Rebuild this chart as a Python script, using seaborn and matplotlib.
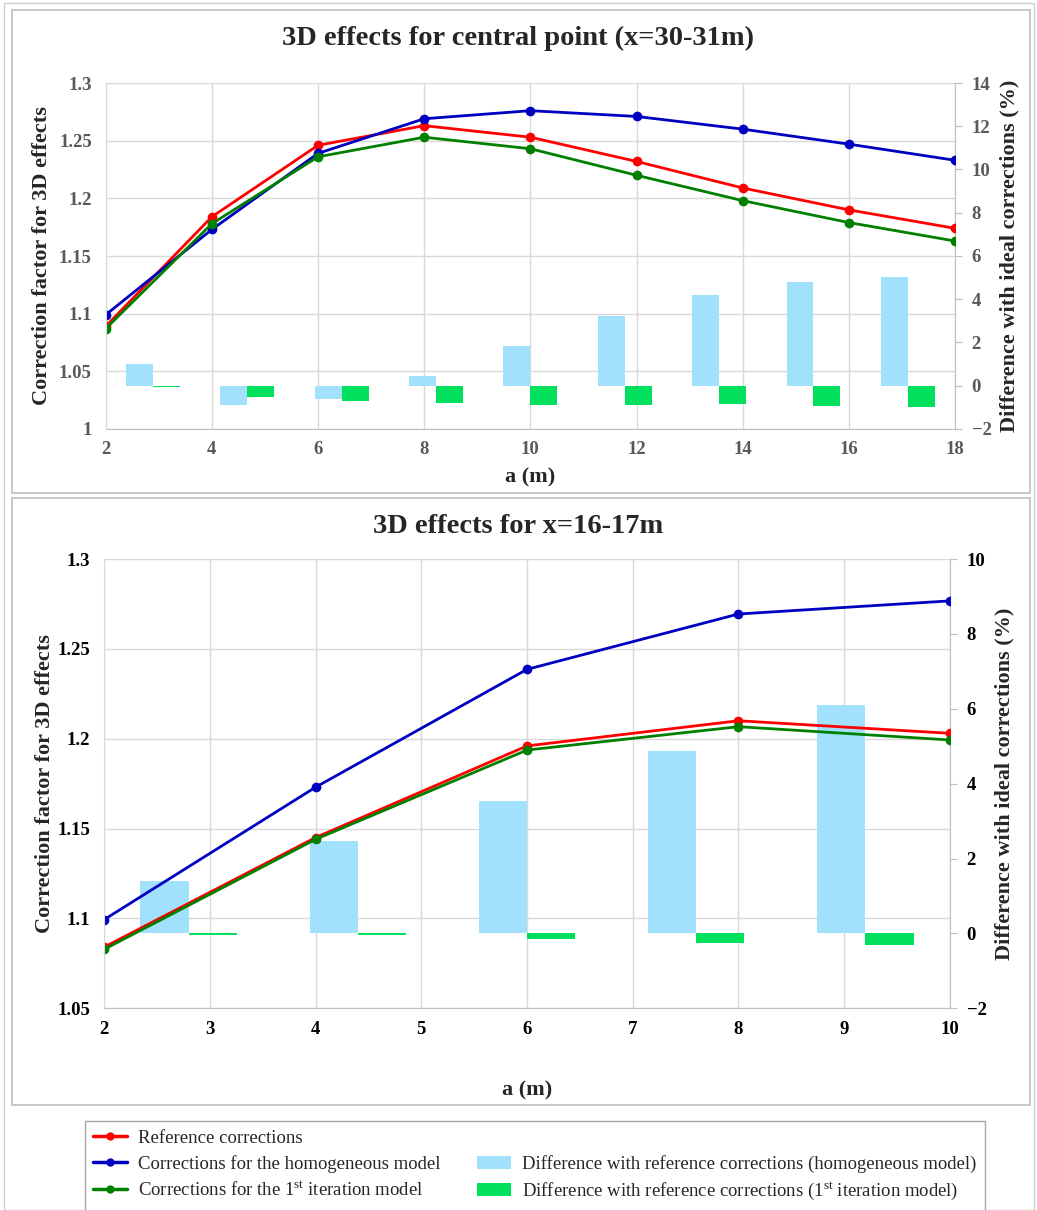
import numpy as np
import pandas as pd
import seaborn as sns
import matplotlib
import matplotlib.pyplot as plt
from matplotlib.lines import Line2D
from matplotlib.patches import Patch, Rectangle
from matplotlib.ticker import FuncFormatter


#%%
# Values

# Top panel: central point (x=30-31m)
a_top = [2, 4, 6, 8, 10, 12, 14, 16, 18]
ref_top = [1.089, 1.184, 1.246, 1.263, 1.253, 1.232, 1.209, 1.190, 1.174]
homog_top = [1.099, 1.173, 1.239, 1.269, 1.276, 1.271, 1.260, 1.247, 1.233]
iter1_top = [1.087, 1.178, 1.236, 1.253, 1.243, 1.220, 1.198, 1.179, 1.163]
diff_homog_top = [1.02, -0.91, -0.59, 0.46, 1.82, 3.24, 4.20, 4.78, 5.01]
diff_iter1_top = [-0.05, -0.52, -0.70, -0.80, -0.88, -0.88, -0.86, -0.93, -0.96]

# Bottom panel: x=16-17m
a_bot = [2, 4, 6, 8, 10]
ref_bot = [1.084, 1.145, 1.196, 1.210, 1.203]
homog_bot = [1.0993, 1.173, 1.2386, 1.2694, 1.2767]
iter1_bot = [1.0828, 1.144, 1.1937, 1.2067, 1.1993]
diff_homog_bot = [1.41, 2.46, 3.53, 4.88, 6.11]
diff_iter1_bot = [-0.05, -0.05, -0.16, -0.26, -0.31]

line_names = ["Reference corrections",
              "Corrections for the homogeneous model",
              r"Corrections for the 1$^{\mathrm{st}}$ iteration model"]
bar_names = ["Difference with reference corrections (homogeneous model)",
             r"Difference with reference corrections (1$^{\mathrm{st}}$ iteration model)"]

line_colors = ["#FF0000", "#0000C0", "#008000"]
bar_colors = ["#A2E1FB", "#00E05C"]
grid_color = "#D9D9D9"


#%%
sns.set_style("white")
plt.rcParams["font.family"] = ["Liberation Serif", "DejaVu Serif"]
plt.rcParams["mathtext.fontset"] = "custom"
plt.rcParams["mathtext.rm"] = "Liberation Serif"
plt.rcParams["mathtext.it"] = "Liberation Serif:italic"
plt.rcParams["mathtext.bf"] = "Liberation Serif:bold"

fig = plt.figure(figsize=(10.37, 12.10), dpi=100)
W, H = 1037, 1210


def px_rect(x0, y0, x1, y1):
    return [x0 / W, 1 - y1 / H, (x1 - x0) / W, (y1 - y0) / H]


def draw_panel(rect, a, ref, homog, iter1, d_homog, d_iter1, xticks,
               ylim_l, yticks_l, ylim_r, yticks_r, tick_color, lab_x, lab_xr, lab_y):
    # grid layer (bottom)
    ax_grid = fig.add_axes(rect)
    ax_grid.set_xlim(a[0], a[-1])
    ax_grid.set_ylim(*ylim_l)
    ax_grid.set_xticks(xticks)
    ax_grid.set_yticks(yticks_l)
    ax_grid.grid(True, color=grid_color, linewidth=1.0)
    ax_grid.tick_params(length=0, labelbottom=False, labelleft=False)
    for s in ax_grid.spines.values():
        s.set_visible(False)
    ax_grid.spines["bottom"].set_visible(True)
    ax_grid.spines["bottom"].set_color("#BFBFBF")

    # bars on secondary category axis
    ax_bar = fig.add_axes(rect)
    ax_bar.patch.set_visible(False)
    bar_df = pd.DataFrame({
        "a": [str(v) for v in a] * 2,
        "diff": list(d_homog) + list(d_iter1),
        "model": [bar_names[0]] * len(a) + [bar_names[1]] * len(a),
    })
    sns.barplot(data=bar_df, x="a", y="diff", hue="model", palette=bar_colors,
                width=0.57, gap=0, saturation=1, errorbar=None, linewidth=0,
                legend=False, ax=ax_bar)
    ax_bar.set_xlim(-0.5, len(a) - 0.5)
    ax_bar.set_ylim(*ylim_r)
    ax_bar.set_yticks(yticks_r)
    ax_bar.yaxis.tick_right()
    ax_bar.yaxis.set_label_position("right")
    ax_bar.tick_params(axis="x", bottom=False, labelbottom=False)
    ax_bar.tick_params(axis="y", direction="out", length=5, color="#BFBFBF",
                       labelsize=13.5, labelcolor=tick_color, pad=7)
    for t in ax_bar.get_yticklabels():
        t.set_fontweight("bold")
    ax_bar.set_xlabel("")
    ax_bar.set_ylabel("Difference with ideal corrections (%)", fontsize=16,
                      fontweight="bold", rotation=90)
    ax_bar.yaxis.set_label_coords(lab_xr, 0.5)
    for s in ["top", "left", "bottom"]:
        ax_bar.spines[s].set_visible(False)
    ax_bar.spines["right"].set_color("#BFBFBF")

    # lines on primary axis (top)
    ax = fig.add_axes(rect, sharex=ax_grid, sharey=ax_grid)
    ax.patch.set_visible(False)
    line_df = pd.DataFrame({
        "a": list(a) * 3,
        "value": list(ref) + list(homog) + list(iter1),
        "series": [line_names[0]] * len(a) + [line_names[1]] * len(a) + [line_names[2]] * len(a),
    })
    sns.lineplot(data=line_df, x="a", y="value", hue="series", hue_order=line_names,
                 palette=line_colors, marker="o", markersize=7, markeredgewidth=0,
                 linewidth=2, legend=False, ax=ax)
    ax.set_xlim(a[0], a[-1])
    ax.set_ylim(*ylim_l)
    ax.set_xticks(xticks)
    ax.set_yticks(yticks_l)
    ax.yaxis.set_major_formatter(FuncFormatter(lambda v, p: "{:g}".format(round(v, 3))))
    ax.tick_params(axis="y", length=0, labelsize=13.5, labelcolor=tick_color, pad=10)
    ax.tick_params(axis="x", length=0, labelsize=13.5, labelcolor=tick_color, pad=9)
    for t in ax.get_xticklabels() + ax.get_yticklabels():
        t.set_fontweight("bold")
    for s in ax.spines.values():
        s.set_visible(False)
    ax.spines["left"].set_visible(True)
    ax.spines["left"].set_color(grid_color)
    ax.set_xlabel("a (m)", fontsize=16, fontweight="bold")
    ax.xaxis.set_label_coords(0.5, lab_y)
    ax.set_ylabel("Correction factor for 3D effects", fontsize=16, fontweight="bold")
    ax.yaxis.set_label_coords(lab_x, 0.5)
    return ax


#%%
# Top panel
draw_panel(px_rect(105.7, 83, 955, 429), a_top, ref_top, homog_top, iter1_top,
           diff_homog_top, diff_iter1_top, a_top,
           (1.0, 1.3), [1.0, 1.05, 1.1, 1.15, 1.2, 1.25, 1.3],
           (-2, 14), [-2, 0, 2, 4, 6, 8, 10, 12, 14], "#595959",
           -0.063, 1.052, -0.11)
fig.text(0.5, 1 - 38 / H, "3D effects for central point (x=30-31m)", ha="center",
         va="center", fontsize=20.5, fontweight="bold")

# Bottom panel
draw_panel(px_rect(104, 559, 950, 1008.3), a_bot, ref_bot, homog_bot, iter1_bot,
           diff_homog_bot, diff_iter1_bot, [2, 3, 4, 5, 6, 7, 8, 9, 10],
           (1.05, 1.3), [1.05, 1.1, 1.15, 1.2, 1.25, 1.3],
           (-2, 10), [-2, 0, 2, 4, 6, 8, 10], "black",
           -0.058, 1.053, -0.16)
fig.text(0.5, 1 - 527 / H, "3D effects for x=16-17m", ha="center",
         va="center", fontsize=20.5, fontweight="bold")

# Panel frames
for (x0, y0, x1, y1) in [(12, 10, 1030, 493), (12, 498, 1030, 1105)]:
    fig.add_artist(Rectangle((x0 / W, 1 - y1 / H), (x1 - x0) / W, (y1 - y0) / H,
                             transform=fig.transFigure, fill=False,
                             edgecolor="#BFBFBF", linewidth=1.2))
fig.add_artist(Rectangle((4 / W, 0), (1034 - 4) / W, 1 - 3 / H,
                         transform=fig.transFigure, fill=False,
                         edgecolor="#D0D0D0", linewidth=1.0))

#%%
# Shared legend
handles = [Line2D([], [], color=c, marker="o", markersize=6, markeredgewidth=0, linewidth=2.5)
           for c in line_colors]
handles.append(Patch(visible=False))
handles += [Patch(facecolor=c, edgecolor="none") for c in bar_colors]
labels = line_names + [""] + bar_names
fig.legend(handles, labels, ncol=2, loc="upper left",
           bbox_to_anchor=(85 / W, 0.0, 900 / W, 1 - 1121 / H), mode="expand",
           borderaxespad=0, frameon=True, fancybox=False, edgecolor="#A6A6A6",
           framealpha=1, fontsize=13.5, handlelength=1.8, handletextpad=0.6,
           labelspacing=0.45, numpoints=1, borderpad=0.45)

plt.savefig("out.png", dpi=100)
